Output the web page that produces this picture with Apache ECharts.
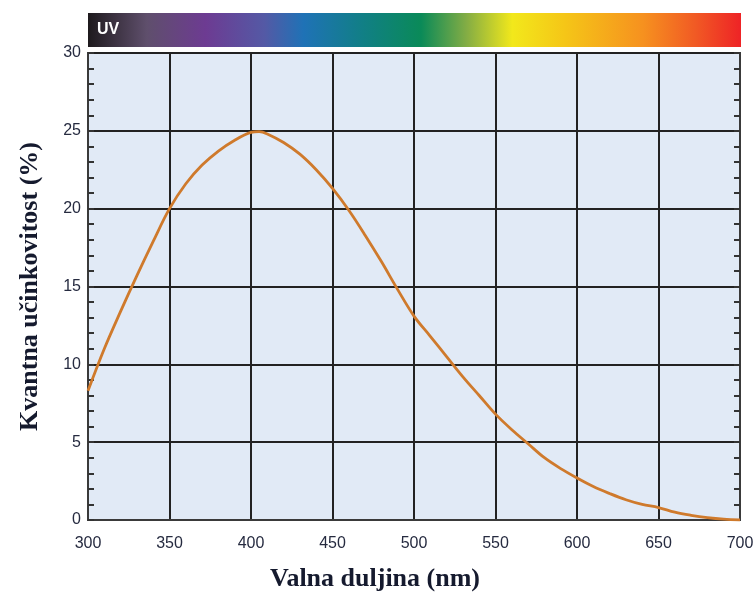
<!DOCTYPE html>
<html>
<head>
<meta charset="utf-8">
<script src="https://cdn.jsdelivr.net/npm/echarts@6/dist/echarts.min.js"></script>
<style>html,body{margin:0;padding:0;background:#fff}#c{width:756px;height:594px}</style>
</head>
<body>
<div id="c"></div>
<script>
const wavelengths = [300,310,320,330,340,350,360,370,380,390,400,405,410,420,430,440,450,460,470,480,490,500,510,520,530,540,550,560,570,580,590,600,610,620,630,640,650,660,670,680,690,700];
const efficiency = [8.3,11.0,13.4,15.7,17.9,20.0,21.6,22.8,23.7,24.4,24.9,24.95,24.8,24.25,23.5,22.5,21.3,19.9,18.3,16.6,14.8,13.1,11.8,10.5,9.2,8.0,6.8,5.8,4.9,4.0,3.3,2.7,2.15,1.7,1.3,1.0,0.8,0.5,0.3,0.15,0.05,0.0];
const xTicks = [300,350,400,450,500,550,600,650,700];
const xTitle = 'Valna duljina (nm)';
const yTitle = 'Kvantna učinkovitost (%)';
const bandLabel = 'UV';

const chart = echarts.init(document.getElementById('c'), null, {renderer: 'canvas'});
const labelColor = '#262b40';
const gridLine = {show: true, lineStyle: {color: '#222', width: 2}};
const titleStyle = {fontFamily: '"Liberation Serif", "Times New Roman", serif', fontWeight: 'bold', fontSize: 26, color: '#151a2e'};
chart.setOption({
  animation: false,
  backgroundColor: '#fff',
  grid: {left: 88, right: 16, top: 53, bottom: 74, outerBoundsMode: 'none', containLabel: false, show: true, backgroundColor: '#e1eaf6', borderColor: '#3a3a3a', borderWidth: 2},
  graphic: [
    {type: 'rect', left: 88, top: 13, shape: {width: 653, height: 34}, style: {
      fill: new echarts.graphic.LinearGradient(0, 0, 1, 0, [
        {offset: 0, color: '#1e1a1d'},
        {offset: 0.09, color: '#5f4f6c'},
        {offset: 0.18, color: '#6d3b92'},
        {offset: 0.27, color: '#5459a5'},
        {offset: 0.33, color: '#1f72b6'},
        {offset: 0.42, color: '#117f86'},
        {offset: 0.51, color: '#0a8a58'},
        {offset: 0.58, color: '#84ad44'},
        {offset: 0.65, color: '#f2e81b'},
        {offset: 0.73, color: '#f5c617'},
        {offset: 0.85, color: '#f6911f'},
        {offset: 0.93, color: '#f15a24'},
        {offset: 1, color: '#ee2326'}
      ])}},
    {type: 'text', left: 97, top: 22, style: {text: bandLabel, fill: '#fff', font: 'bold 16px "Liberation Sans", Arial, sans-serif'}}
  ],
  xAxis: {
    type: 'value', min: 300, max: 700, interval: 50,
    name: xTitle, nameLocation: 'middle', nameGap: 46,
    nameTextStyle: Object.assign({}, titleStyle, {padding: [0, 78, 0, 0]}),
    axisLine: {show: true, lineStyle: {color: '#3a3a3a', width: 2}},
    axisTick: {show: false},
    axisLabel: {color: labelColor, fontSize: 16, fontFamily: '"Liberation Sans", Arial, sans-serif', margin: 16,
      customValues: xTicks},
    splitLine: gridLine
  },
  yAxis: [{
    type: 'value', min: 0, max: 30, interval: 5,
    name: yTitle, nameLocation: 'middle', nameGap: 45,
    nameTextStyle: titleStyle,
    axisLine: {show: true, lineStyle: {color: '#3a3a3a', width: 2}},
    axisTick: {show: true, inside: true, length: 6, lineStyle: {color: '#333', width: 2}},
    minorTick: {show: true, splitNumber: 5, length: 6, lineStyle: {color: '#333', width: 2}},
    axisLabel: {color: labelColor, fontSize: 16, fontFamily: '"Liberation Sans", Arial, sans-serif', margin: 7},
    splitLine: gridLine
  }, {
    type: 'value', min: 0, max: 30, interval: 5, position: 'right',
    axisLine: {show: true, lineStyle: {color: '#3a3a3a', width: 2}},
    axisTick: {show: true, inside: true, length: 6, lineStyle: {color: '#333', width: 2}},
    minorTick: {show: true, splitNumber: 5, length: 6, lineStyle: {color: '#333', width: 2}},
    axisLabel: {show: false},
    splitLine: {show: false}
  }],
  series: [{
    type: 'line', smooth: 0.35, symbol: 'none', clip: true,
    data: wavelengths.map((w, i) => [w, efficiency[i]]),
    lineStyle: {color: '#cf7a2c', width: 2.8}
  }]
});
</script>
</body>
</html>
